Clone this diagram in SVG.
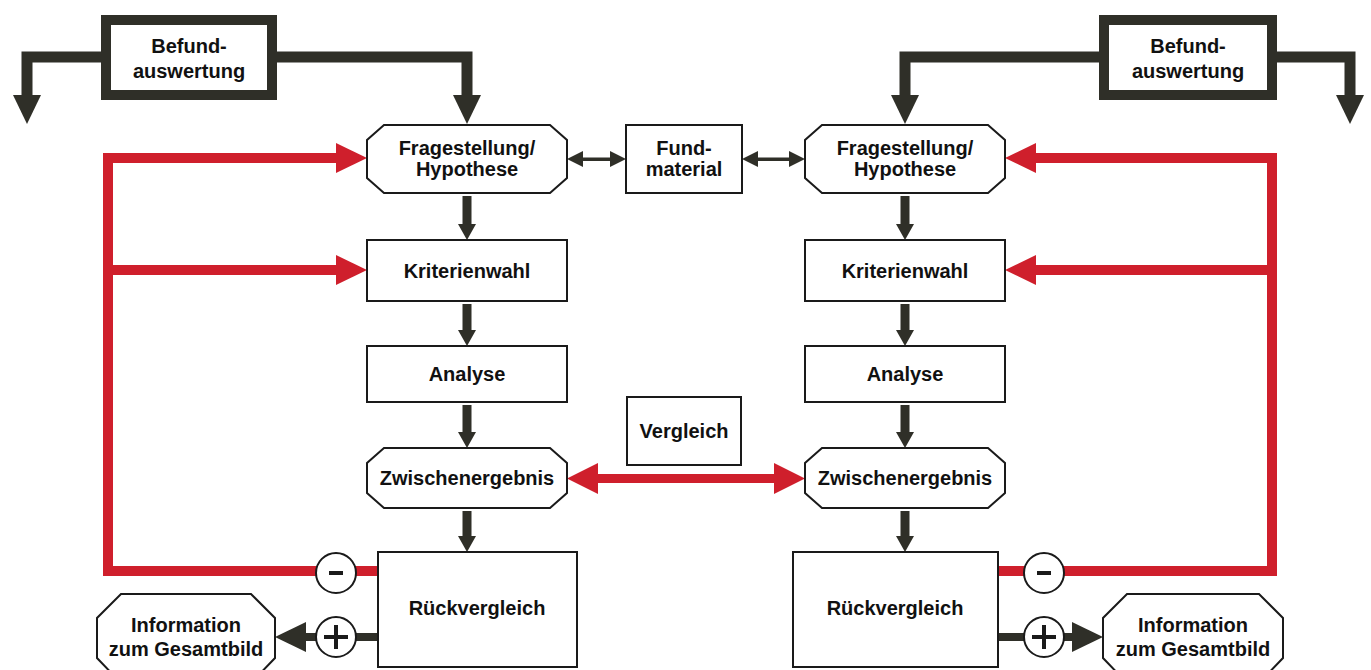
<svg xmlns="http://www.w3.org/2000/svg" width="1371" height="670" viewBox="0 0 1371 670">
<style>
.box{fill:#fff;stroke:#1a1a1a;stroke-width:2}
.bef{fill:#fff;stroke:#2f2f28;stroke-width:10}
.t{font-family:"Liberation Sans",Arial,sans-serif;font-weight:bold;font-size:20px;fill:#111;text-anchor:middle}
.dk{fill:#2f2f28}
.dkl{fill:none;stroke:#2f2f28;stroke-width:11}
.rd{fill:#cf1f2c}
.rdl{fill:none;stroke:#cf1f2c;stroke-width:10}
.circ{fill:#fff;stroke:#1a1a1a;stroke-width:2}
.sign{fill:#1a1a1a}
</style>
<rect width="1371" height="670" fill="#fff"/>

<g id="connectors">
  <!-- Befund arrows left -->
  <polyline class="dkl" points="101,57 27,57 27,96"/>
  <polygon class="dk" points="13,95 41,95 27,124"/>
  <polyline class="dkl" points="277,57 467,57 467,96"/>
  <polygon class="dk" points="453,95 481,95 467,124"/>
  <!-- Befund arrows right -->
  <polyline class="dkl" points="1099,57 905,57 905,96"/>
  <polygon class="dk" points="891,95 919,95 905,124"/>
  <polyline class="dkl" points="1277,57 1350,57 1350,96"/>
  <polygon class="dk" points="1336,95 1364,95 1350,124"/>

  <!-- Frage <-> Fund double arrows -->
  <rect class="dk" x="580" y="157.5" width="33" height="3.5"/>
  <polygon class="dk" points="567,159 583,151 583,167"/>
  <polygon class="dk" points="626,159 610,151 610,167"/>
  <rect class="dk" x="755" y="157.5" width="37" height="3.5"/>
  <polygon class="dk" points="742,159 758,151 758,167"/>
  <polygon class="dk" points="805,159 789,151 789,167"/>

  <!-- Left column vertical arrows -->
  <polygon class="dk" points="462.5,196 471.5,196 471.5,224 476,224 467,240 458,224 462.5,224"/>
  <polygon class="dk" points="462.5,304 471.5,304 471.5,330 476,330 467,346 458,330 462.5,330"/>
  <polygon class="dk" points="462.5,405 471.5,405 471.5,432 476,432 467,448 458,432 462.5,432"/>
  <polygon class="dk" points="462.5,511 471.5,511 471.5,536 476,536 467,552 458,536 462.5,536"/>
  <!-- Right column vertical arrows -->
  <polygon class="dk" points="900.5,196 909.5,196 909.5,224 914,224 905,240 896,224 900.5,224"/>
  <polygon class="dk" points="900.5,304 909.5,304 909.5,330 914,330 905,346 896,330 900.5,330"/>
  <polygon class="dk" points="900.5,405 909.5,405 909.5,432 914,432 905,448 896,432 900.5,432"/>
  <polygon class="dk" points="900.5,511 909.5,511 909.5,536 914,536 905,552 896,536 900.5,536"/>

  <!-- Red double arrow Zwischenergebnis -->
  <rect class="rd" x="595" y="474" width="182" height="9"/>
  <polygon class="rd" points="567,478.5 598,463 598,494"/>
  <polygon class="rd" points="805,478.5 774,463 774,494"/>

  <!-- Left red feedback loop -->
  <polyline class="rdl" points="378,571 108,571 108,158 338,158"/>
  <line class="rdl" x1="108" y1="270" x2="338" y2="270"/>
  <polygon class="rd" points="367,158 336,143 336,173"/>
  <polygon class="rd" points="367,270 336,255 336,285"/>
  <!-- Right red feedback loop -->
  <polyline class="rdl" points="998,571 1272,571 1272,158 1034,158"/>
  <line class="rdl" x1="1272" y1="270" x2="1034" y2="270"/>
  <polygon class="rd" points="1005,158 1036,143 1036,173"/>
  <polygon class="rd" points="1005,270 1036,255 1036,285"/>

  <!-- Plus arrows -->
  <rect class="dk" x="300" y="633" width="78" height="8"/>
  <polygon class="dk" points="275,637 306,622 306,652"/>
  <rect class="dk" x="998" y="633" width="76" height="8"/>
  <polygon class="dk" points="1103,637 1072,622 1072,652"/>

  <!-- Minus / Plus circles -->
  <circle class="circ" cx="336" cy="573" r="20"/>
  <rect class="sign" x="329" y="571" width="14" height="4"/>
  <circle class="circ" cx="336" cy="637" r="20"/>
  <rect class="sign" x="324" y="635" width="24" height="4"/>
  <rect class="sign" x="334" y="625" width="4" height="24"/>
  <circle class="circ" cx="1044" cy="573" r="20"/>
  <rect class="sign" x="1037" y="571" width="14" height="4"/>
  <circle class="circ" cx="1044" cy="637" r="20"/>
  <rect class="sign" x="1032" y="635" width="24" height="4"/>
  <rect class="sign" x="1042" y="625" width="4" height="24"/>
</g>

<g id="befund-left">
  <rect class="bef" x="106" y="20" width="166" height="75"/>
  <text class="t" x="189" y="53">Befund-</text>
  <text class="t" x="189" y="78">auswertung</text>
</g>
<g id="befund-right">
  <rect class="bef" x="1104" y="20" width="168" height="75"/>
  <text class="t" x="1188" y="53">Befund-</text>
  <text class="t" x="1188" y="78">auswertung</text>
</g>

<g id="frage-left">
  <polygon class="box" points="384,125 550,125 567,140 567,178 550,193 384,193 367,178 367,140"/>
  <text class="t" x="467" y="155">Fragestellung/</text>
  <text class="t" x="467" y="176">Hypothese</text>
</g>
<g id="fundmaterial">
  <rect class="box" x="626" y="125" width="116" height="68"/>
  <text class="t" x="684" y="155">Fund-</text>
  <text class="t" x="684" y="176">material</text>
</g>
<g id="frage-right">
  <polygon class="box" points="822,125 988,125 1005,140 1005,178 988,193 822,193 805,178 805,140"/>
  <text class="t" x="905" y="155">Fragestellung/</text>
  <text class="t" x="905" y="176">Hypothese</text>
</g>

<g id="krit-left">
  <rect class="box" x="367" y="240" width="200" height="61"/>
  <text class="t" x="467" y="278">Kriterienwahl</text>
</g>
<g id="krit-right">
  <rect class="box" x="805" y="240" width="200" height="61"/>
  <text class="t" x="905" y="278">Kriterienwahl</text>
</g>

<g id="analyse-left">
  <rect class="box" x="367" y="346" width="200" height="56"/>
  <text class="t" x="467" y="381">Analyse</text>
</g>
<g id="analyse-right">
  <rect class="box" x="805" y="346" width="200" height="56"/>
  <text class="t" x="905" y="381">Analyse</text>
</g>

<g id="vergleich">
  <rect class="box" x="627" y="397" width="114" height="68"/>
  <text class="t" x="684" y="438">Vergleich</text>
</g>

<g id="zwischen-left">
  <polygon class="box" points="384,448 550,448 567,463 567,493 550,508 384,508 367,493 367,463"/>
  <text class="t" x="467" y="485">Zwischenergebnis</text>
</g>
<g id="zwischen-right">
  <polygon class="box" points="822,448 988,448 1005,463 1005,493 988,508 822,508 805,493 805,463"/>
  <text class="t" x="905" y="485">Zwischenergebnis</text>
</g>

<g id="rueck-left">
  <rect class="box" x="378" y="552" width="199" height="115"/>
  <text class="t" x="477" y="615">Rückvergleich</text>
</g>
<g id="rueck-right">
  <rect class="box" x="793" y="552" width="205" height="115"/>
  <text class="t" x="895" y="615">Rückvergleich</text>
</g>

<g id="info-left">
  <polygon class="box" points="121,594 251,594 275,618 275,658 251,683 121,683 97,658 97,618"/>
  <text class="t" x="186" y="632">Information</text>
  <text class="t" x="186" y="656">zum Gesamtbild</text>
</g>
<g id="info-right">
  <polygon class="box" points="1127,594 1259,594 1283,618 1283,658 1259,683 1127,683 1103,658 1103,618"/>
  <text class="t" x="1193" y="632">Information</text>
  <text class="t" x="1193" y="656">zum Gesamtbild</text>
</g>
</svg>
